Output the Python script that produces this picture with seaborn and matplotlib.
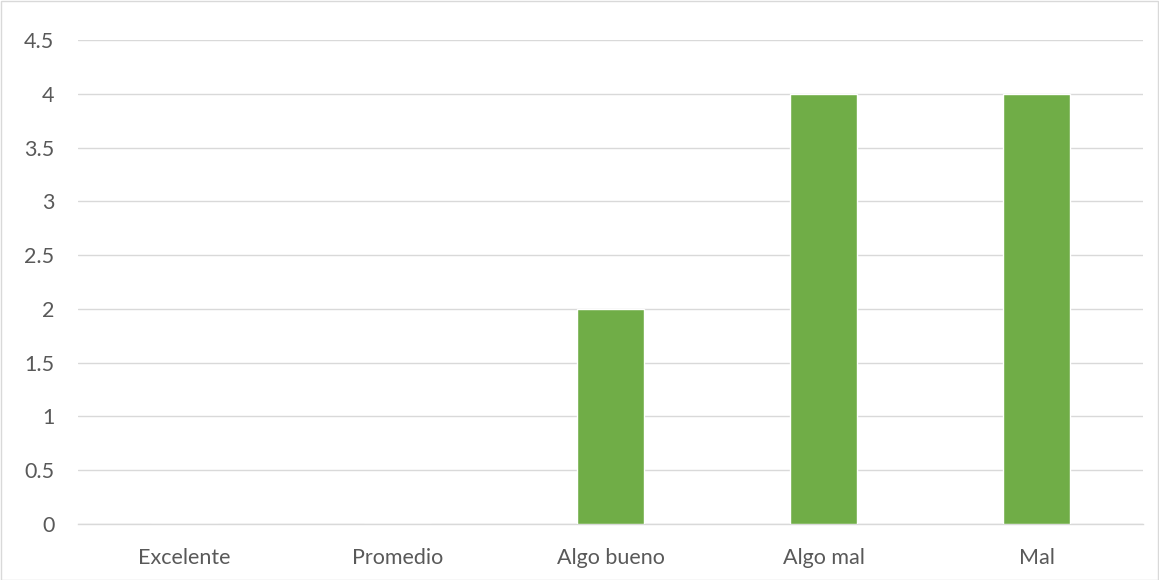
import matplotlib
matplotlib.use("Agg")
import matplotlib.pyplot as plt
import seaborn as sns
import pandas as pd
from matplotlib.patches import Rectangle

categories = ["Excelente", "Promedio", "Algo bueno", "Algo mal", "Mal"]
values = [0, 0, 2, 4, 4]
yticks = [0, 0.5, 1, 1.5, 2, 2.5, 3, 3.5, 4, 4.5]
ytick_labels = ["0", "0.5", "1", "1.5", "2", "2.5", "3", "3.5", "4", "4.5"]

sns.set_theme(style="white")
plt.rcParams['font.family'] = ['Lato', 'DejaVu Sans']

df = pd.DataFrame({"cat": categories, "val": values})

fig = plt.figure(figsize=(11.59, 5.8), dpi=100)
ax = fig.add_axes([78/1159, 56/580, (1143-78)/1159, (524-40)/580])

sns.barplot(data=df, x="cat", y="val", color="#70AD47", width=0.31, saturation=1, ax=ax, zorder=3)

ax.set_ylim(0, 4.5)
ax.set_xlim(-0.5, 4.5)
ax.set_yticks(yticks)
ax.set_yticklabels(ytick_labels)
ax.grid(axis="y", color="#D9D9D9", linewidth=1, zorder=0)
ax.set_xlabel("")
ax.set_ylabel("")
for s in ["top", "right", "left"]:
    ax.spines[s].set_visible(False)
ax.spines["bottom"].set_color("#D9D9D9")
ax.spines["bottom"].set_linewidth(1)
ax.tick_params(axis="both", length=0, labelsize=15.5, labelcolor="#595959")
ax.tick_params(axis="x", pad=17)
ax.tick_params(axis="y", pad=17)

fig.patches.append(Rectangle((0.5/1159, 0.5/580), 1 - 1.5/1159, 1 - 1.5/580, transform=fig.transFigure,
                             fill=False, edgecolor="#D9D9D9", linewidth=1))

fig.savefig("out.png", dpi=100)
